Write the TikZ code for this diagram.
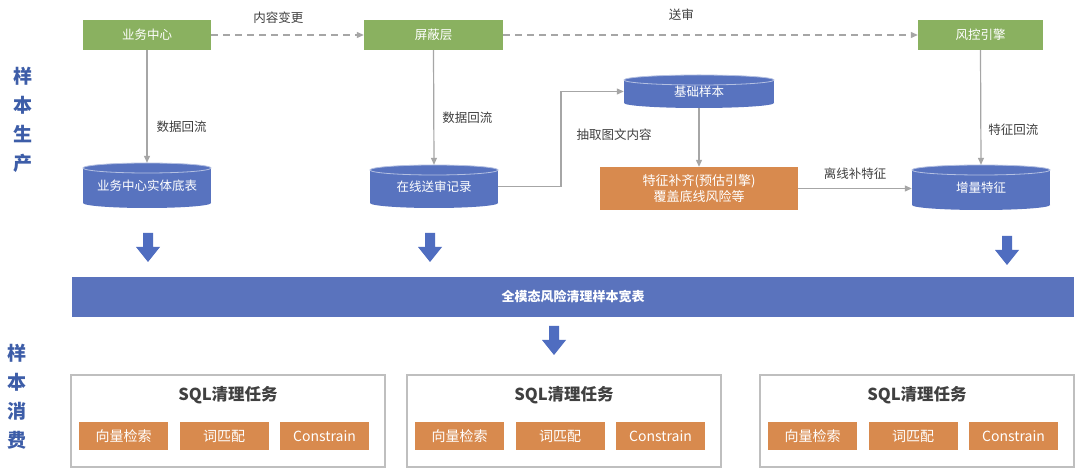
\documentclass[tikz,border=0pt]{standalone}
\usepackage{fontspec}
\newfontfamily\cjk{Noto Sans CJK SC}
\usetikzlibrary{arrows.meta}
\definecolor{gbox}{HTML}{8AB160}
\definecolor{cylblue}{HTML}{5873BF}
\definecolor{barblue}{HTML}{5A73BD}
\definecolor{arrblue}{HTML}{4F6DC0}
\definecolor{obox}{HTML}{D88A4E}
\definecolor{lgray}{HTML}{A6A6A6}
\definecolor{tgray}{HTML}{404040}
\definecolor{sideblue}{HTML}{3D5DA8}
\definecolor{framegray}{HTML}{BFBFBF}
\tikzset{
  greenbox/.style={fill=gbox, text=white, font=\cjk\fontsize{12.5}{14}\selectfont, inner sep=0pt, minimum height=30pt},
  cyltext/.style={inner sep=0pt, text=white, font=\cjk\fontsize{12.5}{14}\selectfont},
  orangebox/.style={fill=obox, text=white, align=center, font=\cjk\fontsize{13}{16}\selectfont, inner sep=0pt, minimum width=198pt, minimum height=43pt},
  lbl/.style={text=tgray, font=\cjk\fontsize{12.5}{14}\selectfont, inner sep=0pt},
  side/.style={text=sideblue, align=center, font=\cjk\bfseries\fontsize{19}{29}\selectfont, inner sep=0pt},
  gline/.style={draw=lgray, line width=1.2pt, -{Triangle[length=7pt,width=6pt]}},
  dline/.style={gline, dash pattern=on 7pt off 5pt},
  widebar/.style={fill=barblue, text=white, font=\cjk\bfseries\fontsize{13}{15}\selectfont, minimum width=1002pt, minimum height=40pt, inner sep=0pt},
  taskframe/.style={draw=framegray, line width=1.2pt, fill=white, minimum width=314pt, minimum height=92pt, inner sep=0pt},
  tasktitle/.style={text=tgray, font=\cjk\bfseries\fontsize{16.5}{18}\selectfont, inner sep=0pt},
  subbox/.style={fill=obox, text=white, font=\cjk\fontsize{14}{16}\selectfont, minimum width=89pt, minimum height=28pt, inner sep=0pt},
}
% cylinder: name, x1, y1, x2, y2, text
\newcommand\dbcyl[6]{%
  \pgfmathsetmacro\hw{((#4)-(#2))/2}%
  \pgfmathsetmacro\cx{((#4)+(#2))/2}%
  \pgfmathsetmacro\hh{(#5)-(#3)}%
  \fill[cylblue] (\cx,{#5-5}) ellipse [x radius=\hw pt, y radius=5pt];
  \fill[cylblue] (#2,{#3+5}) rectangle (#4,{#5-5});
  \draw[cylblue!45!white, line width=0.8pt, fill=cylblue] (\cx,{#3+5}) ellipse [x radius=\hw pt, y radius=5pt];
  \node[cyltext, minimum width=\hw pt*2, minimum height=\hh pt] (#1) at (\cx,{((#3)+(#5))/2}) {#6};
}
\newcommand\blockarrow[2]{%
  \fill[arrblue] ({#1-5},#2) -- ({#1+5},#2) -- ({#1+5},{#2+14}) -- ({#1+12},{#2+14}) -- (#1,{#2+29}) -- ({#1-12},{#2+14}) -- ({#1-5},{#2+14}) -- cycle;
}
\begin{document}
\begin{tikzpicture}[x=1pt,y=-1pt]
\fill[white] (0,0) rectangle (1080,470);
\useasboundingbox (0,0) rectangle (1080,470);

% side labels
\node[side] (prod) at (23,120) {样\\本\\生\\产};
\node[side] (cons) at (17,397) {样\\本\\消\\费};

% green boxes
\node[greenbox, minimum width=128pt] (yw) at (147,35) {业务中心};
\node[greenbox, minimum width=139pt] (pb) at (433.5,35) {屏蔽层};
\node[greenbox, minimum width=125pt] (fk) at (980.5,35) {风控引擎};

% cylinders
\dbcyl{yb}{83}{163}{211}{208}{业务中心实体底表}
\dbcyl{zx}{370}{165}{498}{208}{在线送审记录}
\dbcyl{jc}{624}{75}{774}{108}{基础样本}
\dbcyl{zl}{912}{165}{1050}{210}{增量特征}

% orange box
\node[orangebox] (tz) at (699,188.5) {特征补齐(预估引擎)\\覆盖底线风险等};

% connectors
\draw[dline] (yw.east) -- node[lbl, pos=0.44, above=11pt] (l1) {内容变更} (pb.west);
\draw[dline] (pb.east) -- node[lbl, pos=0.43, above=14pt] (l2) {送审} (fk.west);
\draw[gline] (yw.south) -- node[lbl, pos=0.68, right=9pt] (l3) {数据回流} (yb.north);
\draw[gline] (pb.south) -- node[lbl, pos=0.59, right=8pt] (l4) {数据回流} (zx.north);
\draw[gline] (fk.south) -- node[lbl, pos=0.69, right=7pt] (l5) {特征回流} (zl.north);
\coordinate (turn) at (561,91.5);
\draw[gline] (zx.east) -| (turn) -- (jc.west);
\node[lbl] (l6) at (614,135) {抽取图文内容};
\draw[gline] (jc.south) -- (tz.north);
\draw[gline] (tz.east) -- node[lbl, above=8pt] (l7) {离线补特征} (tz.east -| zl.west);

% block arrows
\blockarrow{148}{233}
\blockarrow{430}{233}
\blockarrow{1007}{236}
\blockarrow{554}{326}

% wide bar
\node[widebar] (wide) at (573,297) {全模态风险清理样本宽表};

% task boxes
\node[taskframe] (t1) at (228,421) {};
\node[taskframe] (t2) at (564,421) {};
\node[taskframe] (t3) at (917,421) {};
\node[tasktitle] (t1h) at (228,395) {SQL清理任务};
\node[tasktitle] (t2h) at (564,395) {SQL清理任务};
\node[tasktitle] (t3h) at (917,395) {SQL清理任务};

\node[subbox] (t1a) at (123.5,436) {向量检索};
\node[subbox] (t1b) at (224,436) {词匹配};
\node[subbox] (t1c) at (324.5,436) {Constrain};
\node[subbox] (t2a) at (459.5,436) {向量检索};
\node[subbox] (t2b) at (560,436) {词匹配};
\node[subbox] (t2c) at (660.5,436) {Constrain};
\node[subbox] (t3a) at (812.5,436) {向量检索};
\node[subbox] (t3b) at (913,436) {词匹配};
\node[subbox] (t3c) at (1013.5,436) {Constrain};
\end{tikzpicture}
\end{document}
